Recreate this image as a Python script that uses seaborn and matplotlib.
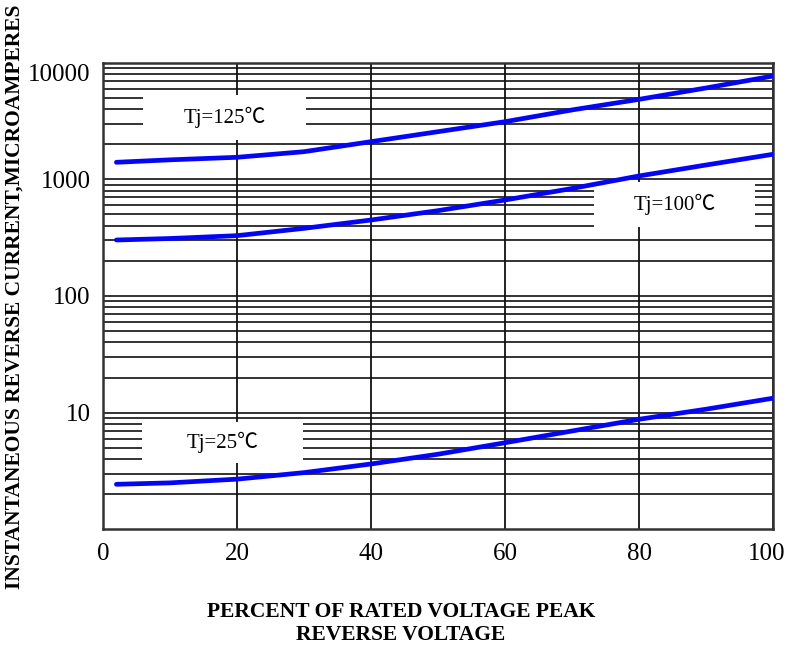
import matplotlib
matplotlib.use("Agg")
import matplotlib.pyplot as plt
import matplotlib.ticker as mticker
import matplotlib.transforms as mtrans
from matplotlib.patches import Rectangle
import numpy as np
import pandas as pd
import seaborn as sns

# values
pct = [2, 10, 20, 30, 40, 50, 60, 70, 80, 90, 100]
cur_125 = [1400, 1470, 1545, 1726, 2104, 2562, 3120, 3935, 4850, 6070, 7690]
cur_100 = [302, 311, 329, 380, 448, 539, 665, 835, 1069, 1327, 1640]
cur_25 = [2.43, 2.5, 2.69, 3.06, 3.63, 4.4, 5.52, 6.96, 8.77, 10.7, 13.3]

labels = ["Tj=125℃", "Tj=100℃", "Tj=25℃"]
y_ticks = [10, 100, 1000, 10000]
x_ticks = [0, 20, 40, 60, 80, 100]

sns.set_style("white")
serif = ["Liberation Serif", "DejaVu Serif"]
plt.rcParams["font.family"] = serif
plt.rcParams.update({"text.color": "black", "axes.labelcolor": "black",
                     "xtick.color": "black", "ytick.color": "black"})

fig = plt.figure(figsize=(7.88, 6.45), dpi=100)
ax = fig.add_axes([0.1307, 0.1794, 0.8503, 0.7234])

df = pd.DataFrame({"pct": pct, "125": cur_125, "100": cur_100, "25": cur_25})
for col in ["125", "100", "25"]:
    sns.lineplot(x="pct", y=col, data=df, ax=ax, color="#0505F5",
                 linewidth=3.4, zorder=4)

ax.set_yscale("log")
ax.set_xlim(0, 100)
ax.set_ylim(1, 10000)
ax.set_xticks(x_ticks)
ax.set_xticklabels([str(v) for v in x_ticks])
ax.yaxis.set_major_locator(mticker.FixedLocator(y_ticks))
ax.yaxis.set_major_formatter(mticker.FixedFormatter([str(v) for v in y_ticks]))
ax.yaxis.set_minor_locator(mticker.LogLocator(base=10, subs=np.arange(2, 10)))
ax.yaxis.set_minor_formatter(mticker.NullFormatter())
ax.tick_params(axis="both", which="both", length=0, labelsize=18)
ax.tick_params(axis="y", pad=9)
ax.tick_params(axis="x", pad=10)

# small nudges seen in the reference
ax.get_xticklabels()[-1].set_transform(
    ax.get_xticklabels()[-1].get_transform()
    + mtrans.ScaledTranslation(-6 / 100, 0, fig.dpi_scale_trans))
ax.get_yticklabels()[-1].set_transform(
    ax.get_yticklabels()[-1].get_transform()
    + mtrans.ScaledTranslation(0, -10 / 100, fig.dpi_scale_trans))

ax.grid(False)
ax.yaxis.grid(True, which="both", color="#111111", linewidth=1.2)
ax.xaxis.grid(True, which="major", color="#111111", linewidth=1.3)
for s in ax.spines.values():
    s.set_color("#333333")
    s.set_linewidth(1.8)

# label boxes
boxes = [(0.0597, 0.834, 0.2433, 0.097), (0.733, 0.6485, 0.240, 0.0965),
         (0.0578, 0.1415, 0.2407, 0.0891)]
for (bx, by, bw, bh), lab in zip(boxes, labels):
    ax.add_patch(Rectangle((bx, by), bw, bh, transform=ax.transAxes,
                           facecolor="white", edgecolor="none", zorder=3))
    ax.text(bx + bw / 2, by + bh / 2, lab, transform=ax.transAxes,
            ha="center", va="center", fontsize=15, zorder=3.5,
            family=["Liberation Serif", "Noto Sans CJK SC", "DejaVu Serif"])

ax.set_xlabel("")
ax.set_ylabel("")
fig.text(0.019, 0.54, "INSTANTANEOUS REVERSE CURRENT,MICROAMPERES",
         rotation=90, ha="center", va="center", fontsize=15.5,
         fontweight="bold")
fig.text(0.509, 0.034, "PERCENT OF RATED VOLTAGE PEAK\nREVERSE VOLTAGE",
         ha="center", va="center", fontsize=15.5, fontweight="bold",
         linespacing=1.2)

fig.savefig("out.png", dpi=100)
